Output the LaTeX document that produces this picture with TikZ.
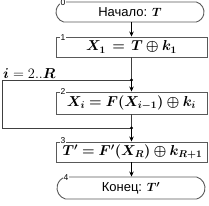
\documentclass[tikz,border=0pt]{standalone}
\usepackage{amsmath,bm}
\usepackage[no-math]{fontspec}
\setmainfont{Liberation Sans}
\usetikzlibrary{shapes.misc,arrows.meta}
\begin{document}
\begin{tikzpicture}[x=1pt,y=-1pt,
  blockbox/.style={rectangle, draw=black!65, line width=0.9pt, minimum width=151pt, minimum height=20pt, inner sep=0pt, font=\fontsize{14.5}{16}\selectfont},
  termbox/.style={rounded rectangle, rounded rectangle arc length=150, draw=black!65, line width=0.9pt, minimum width=148pt, minimum height=20pt, inner sep=0pt, font=\fontsize{13}{15}\selectfont},
  numlab/.style={fill=white, inner sep=0.4pt, font=\fontsize{8.5}{9}\selectfont},
  flow/.style={draw=black, line width=0.8pt, -{Stealth[length=5pt,width=4.5pt]}},
  link/.style={draw=black!75, line width=0.8pt},
  jdot/.style={fill=black}]
\useasboundingbox (0,0) rectangle (209,206);
% blocks
\node[termbox] (t0) at (130,12) {Начало: $\bm{T}$};
\node[blockbox] (b1) at (131.5,47) {$\bm{X_1 \,=\, T \oplus k_1}$};
\node[blockbox, minimum height=22pt] (b2) at (131.5,103) {$\bm{X_i = F(X_{i-1}) \oplus k_i}$};
\node[blockbox] (b3) at (131.5,152) {\hspace*{2pt}$\bm{T' = F'(X_R) \oplus k_{R+1}}$};
\node[termbox, minimum height=22pt] (t4) at (131,188) {Конец: $\bm{T'}$};
% number labels
\node[numlab] (n0) at (63,3) {0};
\node[numlab] (n1) at (63,38) {1};
\node[numlab] (n2) at (63,92) {2};
\node[numlab] (n3) at (63,140.5) {3};
\node[numlab] (n4) at (66,178) {4};
% junctions
\coordinate (j1) at (131.5,80);
\coordinate (j2) at (131.5,128);
\coordinate (c1) at (2,80);
\coordinate (c2) at (2,128);
% connectors
\draw[flow] (t0.south -| b1.north) -- (b1.north);
\draw[link] (b1.south) -- (j1);
\draw[flow] (j1) -- (b2.north);
\draw[link] (b2.south) -- (j2);
\draw[flow] (j2) -- (b3.north);
\draw[flow] (b3.south) -- (t4.north -| b3.south);
\draw[link] (j2) -- (c2) -- (c1) -- (j1);
\fill[jdot] (j1) circle (1.6);
\fill[jdot] (j2) circle (1.6);
% loop label
\node[anchor=south west, inner sep=0pt, font=\fontsize{15}{17}\selectfont] (lab) at (3,78.5) {$\bm{i} = 2..\bm{R}$};
\end{tikzpicture}
\end{document}
